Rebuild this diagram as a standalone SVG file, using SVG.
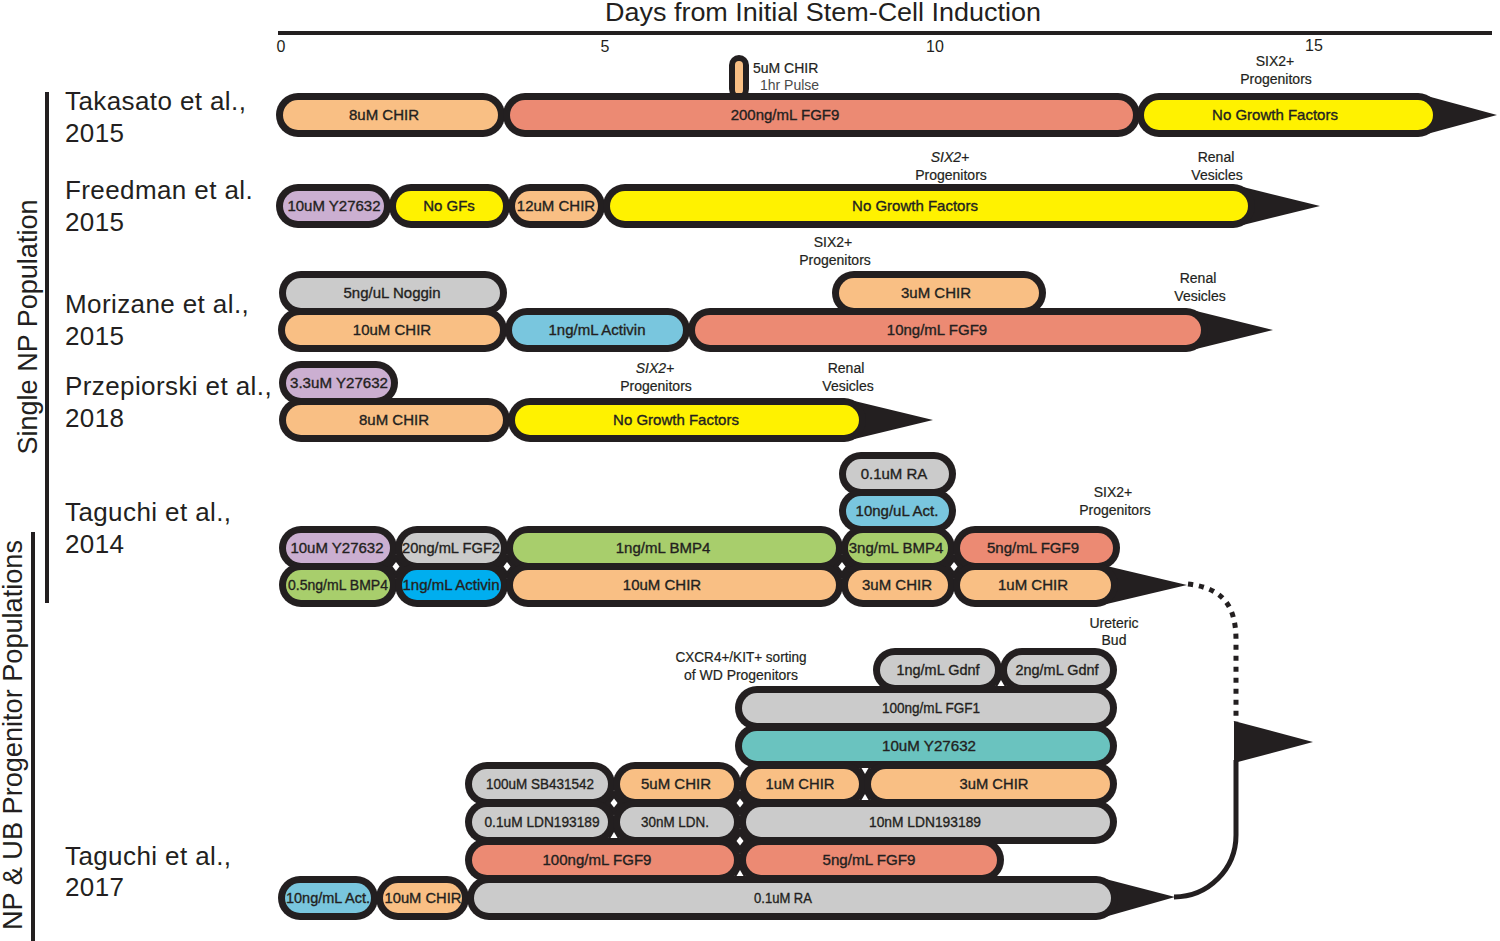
<svg xmlns="http://www.w3.org/2000/svg" width="1500" height="941" viewBox="0 0 1500 941">
<style>
.o{fill:#231F20}
.k{fill:#231F20}
.w{fill:#FFFFFF}
.or{fill:#F9BF84}.sa{fill:#EC8A73}.ye{fill:#FFF200}.la{fill:#CBAFD1}.gr{fill:#CBCBCB}.lb{fill:#79C6DE}.cy{fill:#00AEEF}.gn{fill:#A8CE6C}.te{fill:#6AC3BF}
text{font-family:"Liberation Sans",Arial,Helvetica,sans-serif;fill:#231F20}
.t{font-size:15px;text-anchor:middle;stroke:#231F20;stroke-width:0.35px}
.a{font-size:14px;text-anchor:middle;stroke:#231F20;stroke-width:0.2px}
.ref{font-size:26px;letter-spacing:0.4px}
.tick{font-size:16px;text-anchor:middle}
.ln{fill:none;stroke:#231F20;stroke-width:5}
</style>

<!-- axis -->
<g id="axis">
<text x="823" y="21" style="font-size:26px;text-anchor:middle" textLength="436" lengthAdjust="spacingAndGlyphs">Days from Initial Stem-Cell Induction</text>
<rect class="k" x="278" y="31" width="1214" height="4"/>
<text class="tick" x="281" y="52">0</text>
<text class="tick" x="605" y="52">5</text>
<text class="tick" x="935" y="52">10</text>
<text class="tick" x="1314" y="51">15</text>
</g>

<!-- group labels -->
<g id="groups">
<rect class="k" x="45" y="92" width="4" height="511"/>
<rect class="k" x="31" y="532" width="4" height="409"/>
<text transform="translate(37,327) rotate(-90)" style="font-size:28px;text-anchor:middle" textLength="255" lengthAdjust="spacingAndGlyphs">Single NP Population</text>
<text transform="translate(22,735) rotate(-90)" style="font-size:28px;text-anchor:middle" textLength="390" lengthAdjust="spacingAndGlyphs">NP &amp; UB Progenitor Populations</text>
</g>

<!-- references -->
<g id="refs">
<text class="ref" x="65" y="110">Takasato et al.,</text>
<text class="ref" x="65" y="142">2015</text>
<text class="ref" x="65" y="199">Freedman et al.</text>
<text class="ref" x="65" y="231">2015</text>
<text class="ref" x="65" y="313">Morizane et al.,</text>
<text class="ref" x="65" y="345">2015</text>
<text class="ref" x="65" y="395">Przepiorski et al.,</text>
<text class="ref" x="65" y="427">2018</text>
<text class="ref" x="65" y="521">Taguchi et al.,</text>
<text class="ref" x="65" y="553">2014</text>
<text class="ref" x="65" y="865">Taguchi et al.,</text>
<text class="ref" x="65" y="896">2017</text>
</g>

<!-- annotations -->
<g id="annotations">
<text x="753" y="73" style="font-size:14px;stroke:#231F20;stroke-width:0.2px">5uM CHIR</text>
<text x="760" y="90" style="font-size:14px;fill:#4a4a4a">1hr Pulse</text>
<text class="a" x="1275" y="66">SIX2+</text>
<text class="a" x="1276" y="84">Progenitors</text>
<text class="a" x="950" y="162" font-style="italic">SIX2+</text>
<text class="a" x="951" y="180">Progenitors</text>
<text class="a" x="1216" y="162">Renal</text>
<text class="a" x="1217" y="180">Vesicles</text>
<text class="a" x="833" y="247">SIX2+</text>
<text class="a" x="835" y="265">Progenitors</text>
<text class="a" x="1198" y="283">Renal</text>
<text class="a" x="1200" y="301">Vesicles</text>
<text class="a" x="655" y="373" font-style="italic">SIX2+</text>
<text class="a" x="656" y="391">Progenitors</text>
<text class="a" x="846" y="373">Renal</text>
<text class="a" x="848" y="391">Vesicles</text>
<text class="a" x="1113" y="497">SIX2+</text>
<text class="a" x="1115" y="515">Progenitors</text>
<text class="a" x="1114" y="628">Ureteric</text>
<text class="a" x="1114" y="645">Bud</text>
<text class="a" x="741" y="662" textLength="131" lengthAdjust="spacingAndGlyphs">CXCR4+/KIT+ sorting</text>
<text class="a" x="741" y="680" textLength="114" lengthAdjust="spacingAndGlyphs">of WD Progenitors</text>
</g>

<!-- junction fills -->
<g id="junctions">
<circle class="k" cx="396" cy="566.5" r="12"/><polygon class="w" points="396,562 399.5,566.5 396,571 392.5,566.5"/>
<circle class="k" cx="507" cy="566.5" r="12"/><polygon class="w" points="507,562 510.5,566.5 507,571 503.5,566.5"/>
<circle class="k" cx="842" cy="566.5" r="12"/><polygon class="w" points="842,562 845.5,566.5 842,571 838.5,566.5"/>
<circle class="k" cx="954" cy="566.5" r="12"/><polygon class="w" points="954,562 957.5,566.5 954,571 950.5,566.5"/>
<circle class="k" cx="614" cy="803" r="12"/><polygon class="w" points="614,798.5 617.5,803 614,807.5 610.5,803"/>
<circle class="k" cx="740" cy="803" r="12"/><polygon class="w" points="740,798.5 743.5,803 740,807.5 736.5,803"/>
<circle class="k" cx="740" cy="841" r="12"/><polygon class="w" points="740,836.5 743.5,841 740,845.5 736.5,841"/>
<circle class="k" cx="1001" cy="680" r="8"/><polygon class="w" points="997.5,686 1004.5,686 1001,680"/>
<circle class="k" cx="865" cy="774" r="8"/><polygon class="w" points="861.5,768 868.5,768 865,774"/>
<circle class="k" cx="865" cy="794" r="8"/><polygon class="w" points="861.5,800 868.5,800 865,794"/>
<circle class="k" cx="614" cy="832" r="8"/><polygon class="w" points="610.5,838 617.5,838 614,832"/>
<circle class="k" cx="740" cy="870" r="8"/><polygon class="w" points="736.5,876 743.5,876 740,870"/>
</g>

<!-- connectors -->
<g id="connectors">
<path class="ln" d="M1188,584 C1222,588 1236,605 1236,640 L1236,722" stroke-dasharray="5 6"/>
<polygon class="k" points="1234,721 1313,742 1234,763"/>
<path class="ln" d="M1236,760 L1236,835 A62,62 0 0 1 1174,897"/>
</g>

<!-- Takasato 2015 -->
<g id="tak-pulse"><rect class="o" x="729" y="55" width="20" height="44" rx="10"/><rect class="or" x="735" y="61" width="8" height="33" rx="4"/></g>
<g id="tak-1"><rect class="o" x="276" y="93" width="229" height="44" rx="22"/><rect class="or" x="283" y="100" width="215" height="30" rx="15"/><text class="t" x="384" y="120">8uM CHIR</text></g>
<g id="tak-2"><rect class="o" x="503" y="93" width="637" height="44" rx="22"/><rect class="sa" x="510" y="100" width="623" height="30" rx="15"/><text class="t" x="785" y="120">200ng/mL FGF9</text></g>
<g id="tak-3"><polygon class="k" points="1416,93 1497,115 1416,137"/><rect class="o" x="1137" y="93" width="303" height="44" rx="22"/><rect class="ye" x="1144" y="100" width="289" height="30" rx="15"/><text class="t" x="1275" y="120">No Growth Factors</text></g>

<!-- Freedman 2015 -->
<g id="fre-1"><rect class="o" x="276" y="184" width="115" height="44" rx="22"/><rect class="la" x="283" y="191" width="101" height="30" rx="15"/><text class="t" x="334" y="211">10uM Y27632</text></g>
<g id="fre-2"><rect class="o" x="389" y="184" width="121" height="44" rx="22"/><rect class="ye" x="396" y="191" width="107" height="30" rx="15"/><text class="t" x="449" y="211">No GFs</text></g>
<g id="fre-3"><rect class="o" x="508" y="184" width="97" height="44" rx="22"/><rect class="or" x="515" y="191" width="83" height="30" rx="15"/><text class="t" x="556" y="211">12uM CHIR</text></g>
<g id="fre-4"><polygon class="k" points="1231,184 1320,206 1231,228"/><rect class="o" x="603" y="184" width="652" height="44" rx="22"/><rect class="ye" x="610" y="191" width="638" height="30" rx="15"/><text class="t" x="915" y="211">No Growth Factors</text></g>

<!-- Morizane 2015 -->
<g id="mor-1"><rect class="o" x="279" y="271" width="228" height="44" rx="22"/><rect class="gr" x="286" y="278" width="214" height="30" rx="15"/><text class="t" x="392" y="298">5ng/uL Noggin</text></g>
<g id="mor-2"><rect class="o" x="832" y="271" width="214" height="44" rx="22"/><rect class="or" x="839" y="278" width="200" height="30" rx="15"/><text class="t" x="936" y="298">3uM CHIR</text></g>
<g id="mor-3"><rect class="o" x="278" y="308" width="229" height="44" rx="22"/><rect class="or" x="285" y="315" width="215" height="30" rx="15"/><text class="t" x="392" y="335">10uM CHIR</text></g>
<g id="mor-4"><rect class="o" x="505" y="308" width="185" height="44" rx="22"/><rect class="lb" x="512" y="315" width="171" height="30" rx="15"/><text class="t" x="597" y="335">1ng/mL Activin</text></g>
<g id="mor-5"><polygon class="k" points="1184,308 1273,330 1184,352"/><rect class="o" x="688" y="308" width="520" height="44" rx="22"/><rect class="sa" x="695" y="315" width="506" height="30" rx="15"/><text class="t" x="937" y="335">10ng/mL FGF9</text></g>

<!-- Przepiorski 2018 -->
<g id="prz-1"><rect class="o" x="279" y="361" width="119" height="44" rx="22"/><rect class="la" x="286" y="368" width="105" height="30" rx="15"/><text class="t" x="339" y="388" textLength="98" lengthAdjust="spacingAndGlyphs">3.3uM Y27632</text></g>
<g id="prz-2"><rect class="o" x="279" y="398" width="231" height="44" rx="22"/><rect class="or" x="286" y="405" width="217" height="30" rx="15"/><text class="t" x="394" y="425">8uM CHIR</text></g>
<g id="prz-3"><polygon class="k" points="842,398 933,420 842,442"/><rect class="o" x="508" y="398" width="358" height="44" rx="22"/><rect class="ye" x="515" y="405" width="344" height="30" rx="15"/><text class="t" x="676" y="425">No Growth Factors</text></g>

<!-- Taguchi 2014 -->
<g id="t14-ra"><rect class="o" x="839" y="452" width="117" height="44" rx="22"/><rect class="gr" x="846" y="459" width="103" height="30" rx="15"/><text class="t" x="894" y="479">0.1uM RA</text></g>
<g id="t14-act"><rect class="o" x="839" y="489" width="117" height="44" rx="22"/><rect class="lb" x="846" y="496" width="103" height="30" rx="15"/><text class="t" x="897" y="516">10ng/uL Act.</text></g>
<g id="t14-a1"><rect class="o" x="279" y="526" width="118" height="44" rx="22"/><rect class="la" x="286" y="533" width="104" height="30" rx="15"/><text class="t" x="337" y="553">10uM Y27632</text></g>
<g id="t14-a2"><rect class="o" x="395" y="526" width="113" height="44" rx="22"/><rect class="gr" x="402" y="533" width="99" height="30" rx="15"/><text class="t" x="451" y="553" textLength="98" lengthAdjust="spacingAndGlyphs">20ng/mL FGF2</text></g>
<g id="t14-a3"><rect class="o" x="506" y="526" width="337" height="44" rx="22"/><rect class="gn" x="513" y="533" width="323" height="30" rx="15"/><text class="t" x="663" y="553">1ng/mL BMP4</text></g>
<g id="t14-a4"><rect class="o" x="841" y="526" width="114" height="44" rx="22"/><rect class="gn" x="848" y="533" width="100" height="30" rx="15"/><text class="t" x="896" y="553">3ng/mL BMP4</text></g>
<g id="t14-a5"><rect class="o" x="953" y="526" width="167" height="44" rx="22"/><rect class="sa" x="960" y="533" width="153" height="30" rx="15"/><text class="t" x="1033" y="553">5ng/mL FGF9</text></g>
<g id="t14-b1"><rect class="o" x="279" y="563" width="118" height="44" rx="22"/><rect class="gn" x="286" y="570" width="104" height="30" rx="15"/><text class="t" x="338" y="590" textLength="100" lengthAdjust="spacingAndGlyphs">0.5ng/mL BMP4</text></g>
<g id="t14-b2"><rect class="o" x="395" y="563" width="113" height="44" rx="22"/><rect class="cy" x="402" y="570" width="99" height="30" rx="15"/><text class="t" x="451" y="590" textLength="97" lengthAdjust="spacingAndGlyphs">1ng/mL Activin</text></g>
<g id="t14-b3"><rect class="o" x="506" y="563" width="337" height="44" rx="22"/><rect class="or" x="513" y="570" width="323" height="30" rx="15"/><text class="t" x="662" y="590">10uM CHIR</text></g>
<g id="t14-b4"><rect class="o" x="841" y="563" width="114" height="44" rx="22"/><rect class="or" x="848" y="570" width="100" height="30" rx="15"/><text class="t" x="897" y="590">3uM CHIR</text></g>
<g id="t14-b5"><polygon class="k" points="1094,563 1187,585 1094,607"/><rect class="o" x="953" y="563" width="165" height="44" rx="22"/><rect class="or" x="960" y="570" width="151" height="30" rx="15"/><text class="t" x="1033" y="590">1uM CHIR</text></g>

<!-- Taguchi 2017 -->
<g id="t17-gdnf1"><rect class="o" x="873" y="648" width="129" height="44" rx="22"/><rect class="gr" x="880" y="655" width="115" height="30" rx="15"/><text class="t" x="938" y="675" textLength="83" lengthAdjust="spacingAndGlyphs">1ng/mL Gdnf</text></g>
<g id="t17-gdnf2"><rect class="o" x="1000" y="648" width="117" height="44" rx="22"/><rect class="gr" x="1007" y="655" width="103" height="30" rx="15"/><text class="t" x="1057" y="675" textLength="83" lengthAdjust="spacingAndGlyphs">2ng/mL Gdnf</text></g>
<g id="t17-fgf1"><rect class="o" x="735" y="686" width="382" height="44" rx="22"/><rect class="gr" x="742" y="693" width="368" height="30" rx="15"/><text class="t" x="931" y="713" textLength="98" lengthAdjust="spacingAndGlyphs">100ng/mL FGF1</text></g>
<g id="t17-y"><rect class="o" x="735" y="724" width="382" height="44" rx="22"/><rect class="te" x="742" y="731" width="368" height="30" rx="15"/><text class="t" x="929" y="751" textLength="94" lengthAdjust="spacingAndGlyphs">10uM Y27632</text></g>
<g id="t17-sb"><rect class="o" x="465" y="762" width="150" height="44" rx="22"/><rect class="gr" x="472" y="769" width="136" height="30" rx="15"/><text class="t" x="540" y="789" textLength="108" lengthAdjust="spacingAndGlyphs">100uM SB431542</text></g>
<g id="t17-c5"><rect class="o" x="613" y="762" width="128" height="44" rx="22"/><rect class="or" x="620" y="769" width="114" height="30" rx="15"/><text class="t" x="676" y="789" textLength="70" lengthAdjust="spacingAndGlyphs">5uM CHIR</text></g>
<g id="t17-c1"><rect class="o" x="739" y="762" width="127" height="44" rx="22"/><rect class="or" x="746" y="769" width="113" height="30" rx="15"/><text class="t" x="800" y="789" textLength="69" lengthAdjust="spacingAndGlyphs">1uM CHIR</text></g>
<g id="t17-c3"><rect class="o" x="864" y="762" width="253" height="44" rx="22"/><rect class="or" x="871" y="769" width="239" height="30" rx="15"/><text class="t" x="994" y="789" textLength="69" lengthAdjust="spacingAndGlyphs">3uM CHIR</text></g>
<g id="t17-ldn1"><rect class="o" x="465" y="800" width="150" height="44" rx="22"/><rect class="gr" x="472" y="807" width="136" height="30" rx="15"/><text class="t" x="542" y="827" textLength="115" lengthAdjust="spacingAndGlyphs">0.1uM LDN193189</text></g>
<g id="t17-ldn2"><rect class="o" x="613" y="800" width="128" height="44" rx="22"/><rect class="gr" x="620" y="807" width="114" height="30" rx="15"/><text class="t" x="675" y="827" textLength="68" lengthAdjust="spacingAndGlyphs">30nM LDN.</text></g>
<g id="t17-ldn3"><rect class="o" x="739" y="800" width="378" height="44" rx="22"/><rect class="gr" x="746" y="807" width="364" height="30" rx="15"/><text class="t" x="925" y="827" textLength="112" lengthAdjust="spacingAndGlyphs">10nM LDN193189</text></g>
<g id="t17-f9a"><rect class="o" x="465" y="838" width="276" height="44" rx="22"/><rect class="sa" x="472" y="845" width="262" height="30" rx="15"/><text class="t" x="597" y="865" textLength="109" lengthAdjust="spacingAndGlyphs">100ng/mL FGF9</text></g>
<g id="t17-f9b"><rect class="o" x="739" y="838" width="265" height="44" rx="22"/><rect class="sa" x="746" y="845" width="251" height="30" rx="15"/><text class="t" x="869" y="865" textLength="93" lengthAdjust="spacingAndGlyphs">5ng/mL FGF9</text></g>
<g id="t17-act"><rect class="o" x="278" y="876" width="100" height="44" rx="22"/><rect class="lb" x="285" y="883" width="86" height="30" rx="15"/><text class="t" x="328" y="903" textLength="84" lengthAdjust="spacingAndGlyphs">10ng/mL Act.</text></g>
<g id="t17-chir"><rect class="o" x="376" y="876" width="93" height="44" rx="22"/><rect class="or" x="383" y="883" width="79" height="30" rx="15"/><text class="t" x="423" y="903" textLength="77" lengthAdjust="spacingAndGlyphs">10uM CHIR</text></g>
<g id="t17-ra"><polygon class="k" points="1094,876 1175,897 1094,920"/><rect class="o" x="467" y="876" width="651" height="44" rx="22"/><rect class="gr" x="474" y="883" width="637" height="30" rx="15"/><text class="t" x="783" y="903" textLength="58" lengthAdjust="spacingAndGlyphs">0.1uM RA</text></g>
</svg>
